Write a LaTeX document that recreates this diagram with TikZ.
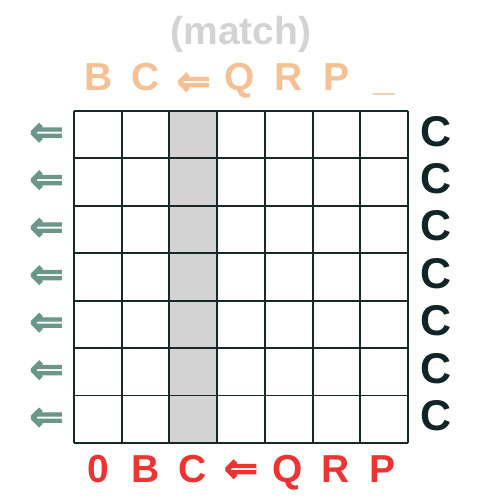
\documentclass[tikz,border=0pt]{standalone}
\usepackage{fontspec}
\setmainfont{Liberation Sans}
\newfontfamily\arrowfont[FakeBold=2.5]{DejaVu Sans Bold}
\definecolor{gridc}{HTML}{172828}
\definecolor{orangec}{HTML}{F5C194}
\definecolor{grayc}{HTML}{D3D3D3}
\definecolor{redc}{HTML}{EE3333}
\definecolor{tealc}{HTML}{6B978A}
\definecolor{darkc}{HTML}{0F2528}
\begin{document}
\begin{tikzpicture}[x=1pt,y=-1pt,
  lbl/.style={anchor=base,inner sep=0pt,font=\fontsize{39}{39}\selectfont\bfseries},
  toplbl/.style={lbl,text=orangec},
  botlbl/.style={lbl,text=redc},
  arr/.style={inner sep=0pt,font=\fontsize{41}{41}\selectfont\arrowfont},
  leftarr/.style={arr,text=tealc},
  rightc/.style={anchor=base,inner sep=0pt,text=darkc,font=\fontsize{43}{43}\selectfont\bfseries},
  cell/.style={draw=gridc,line width=1.9pt}]
\useasboundingbox (0,0) rectangle (494,504);
\fill[grayc] (169.4,110.7) rectangle (217.1,443);
\foreach \i in {0,...,7}{
  \draw[cell] (74+\i*47.71,110.7) -- (74+\i*47.71,443);
  \draw[cell] (74,110.7+\i*47.47) -- (408,110.7+\i*47.47);
}
\node[lbl,text=grayc] (title) at (241,44) {(match)};
\node[toplbl] (t1) at (99,90) {B};
\node[toplbl] (t2) at (146,90) {C};
\node[arr,text=orangec] (t3) at (193.5,84) {⇐};
\node[toplbl] (t4) at (240,90) {Q};
\node[toplbl] (t5) at (289,90) {R};
\node[toplbl] (t6) at (337,90) {P};
\node[toplbl] (t7) at (384,90) {\_};
\node[botlbl] (b1) at (98,482) {0};
\node[botlbl] (b2) at (146,482) {B};
\node[botlbl] (b3) at (193,482) {C};
\node[arr,text=redc] (b4) at (241,471) {⇐};
\node[botlbl] (b5) at (288,482) {Q};
\node[botlbl] (b6) at (336,482) {R};
\node[botlbl] (b7) at (383,482) {P};
\foreach \r in {0,...,6}{
  \node[leftarr] (l\r) at (46.5,134.5+\r*47.47) {⇐};
  \node[rightc] (r\r) at (436,146+\r*47.47) {C};
}
\end{tikzpicture}
\end{document}
